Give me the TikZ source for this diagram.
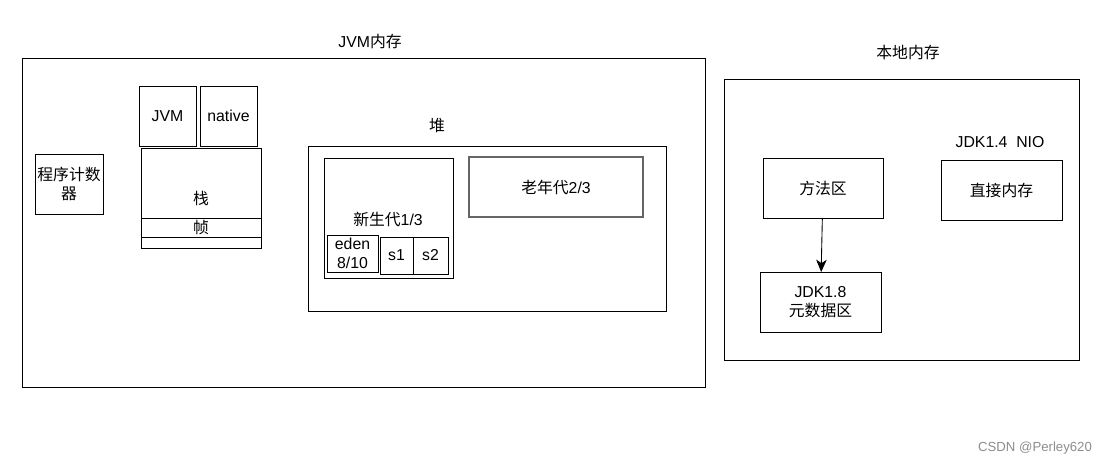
\documentclass[tikz,border=0pt]{standalone}
\usepackage{fontspec}
\setmainfont{Liberation Sans}
\newfontfamily\cjk{Noto Sans CJK SC}
\usetikzlibrary{arrows.meta,positioning,fit}

\begin{document}
\begin{tikzpicture}[x=0.02cm,y=-0.02cm,
    box/.style={draw,line width=0.5pt,inner sep=0pt,outer sep=0pt},
    lbl/.style={align=center,font=\fontsize{9}{11}\selectfont}]
  \useasboundingbox (0,0) rectangle (1111,466);
  % JVM memory
  \node[lbl] (jvmtitle) at (370,42) {JVM{\cjk 内存}};
  \node[box,fit={(22,58) (705,387)}] (jvm) {};
  \node[box,fit={(35,154) (103,214)}] (pc) {};
  \node[lbl] (pclbl) at (pc.center) {{\cjk 程序计数}\\{\cjk 器}};
  \node[box,fit={(139,86) (196,146)}] (jvmstack) {};
  \node[lbl] (jvmstacklbl) at (jvmstack.center) {JVM};
  \node[box,fit={(200,86) (257,146)}] (native) {};
  \node[lbl] (nativelbl) at (native.center) {native};
  \node[box,fit={(141,148) (261,248)}] (stack) {};
  \node[lbl] (stacklbl) at (stack.center) {\cjk 栈};
  \node[box,fit={(141,218) (261,237)}] (frame) {};
  \node[lbl] (framelbl) at (frame.center) {\cjk 帧};
  % heap
  \node[lbl] (heaptitle) at (437,126) {\cjk 堆};
  \node[box,fit={(308,146) (666,311)}] (heap) {};
  \node[box,fit={(324,158) (453,278)}] (young) {};
  \node[lbl] (younglbl) at (388,219) {{\cjk 新生代}1/3};
  \node[box,fit={(327,235) (378,272)}] (eden) {};
  \node[lbl] (edenlbl) at (eden.center) {eden\\8/10};
  \node[box,fit={(380,237) (413,274)}] (sone) {};
  \node[lbl] (sonelbl) at (sone.center) {s1};
  \node[box,fit={(413,237) (448,274)}] (stwo) {};
  \node[lbl] (stwolbl) at (stwo.center) {s2};
  \node[box,draw=black!60,line width=0.8pt,fit={(469,157) (643,217)}] (old) {};
  \node[lbl] (oldlbl) at (old.center) {{\cjk 老年代}2/3};
  % native memory
  \node[lbl] (localtitle) at (908,53) {\cjk 本地内存};
  \node[box,fit={(724,79) (1079,360)}] (local) {};
  \node[box,fit={(763,158) (883,218)}] (method) {};
  \node[lbl] (methodlbl) at (method.center) {\cjk 方法区};
  \node[box,fit={(760,272) (881,332)}] (meta) {};
  \node[lbl] (metalbl) at (meta.center) {JDK1.8\\{\cjk 元数据区}};
  \node[lbl] (niotitle) at (1000,142) {JDK1.4\ \ NIO};
  \node[box,fit={(941,160) (1062,220)}] (direct) {};
  \node[lbl] (directlbl) at (direct.center) {\cjk 直接内存};
  \draw[line width=0.5pt,-{Stealth[length=7pt,width=6pt,inset=2pt]}] (method) -- (meta);
  % watermark
  \node[text=black!45,font=\fontsize{7.5}{9}\selectfont] (mark) at (1035,448) {CSDN @Perley620};
\end{tikzpicture}
\end{document}
